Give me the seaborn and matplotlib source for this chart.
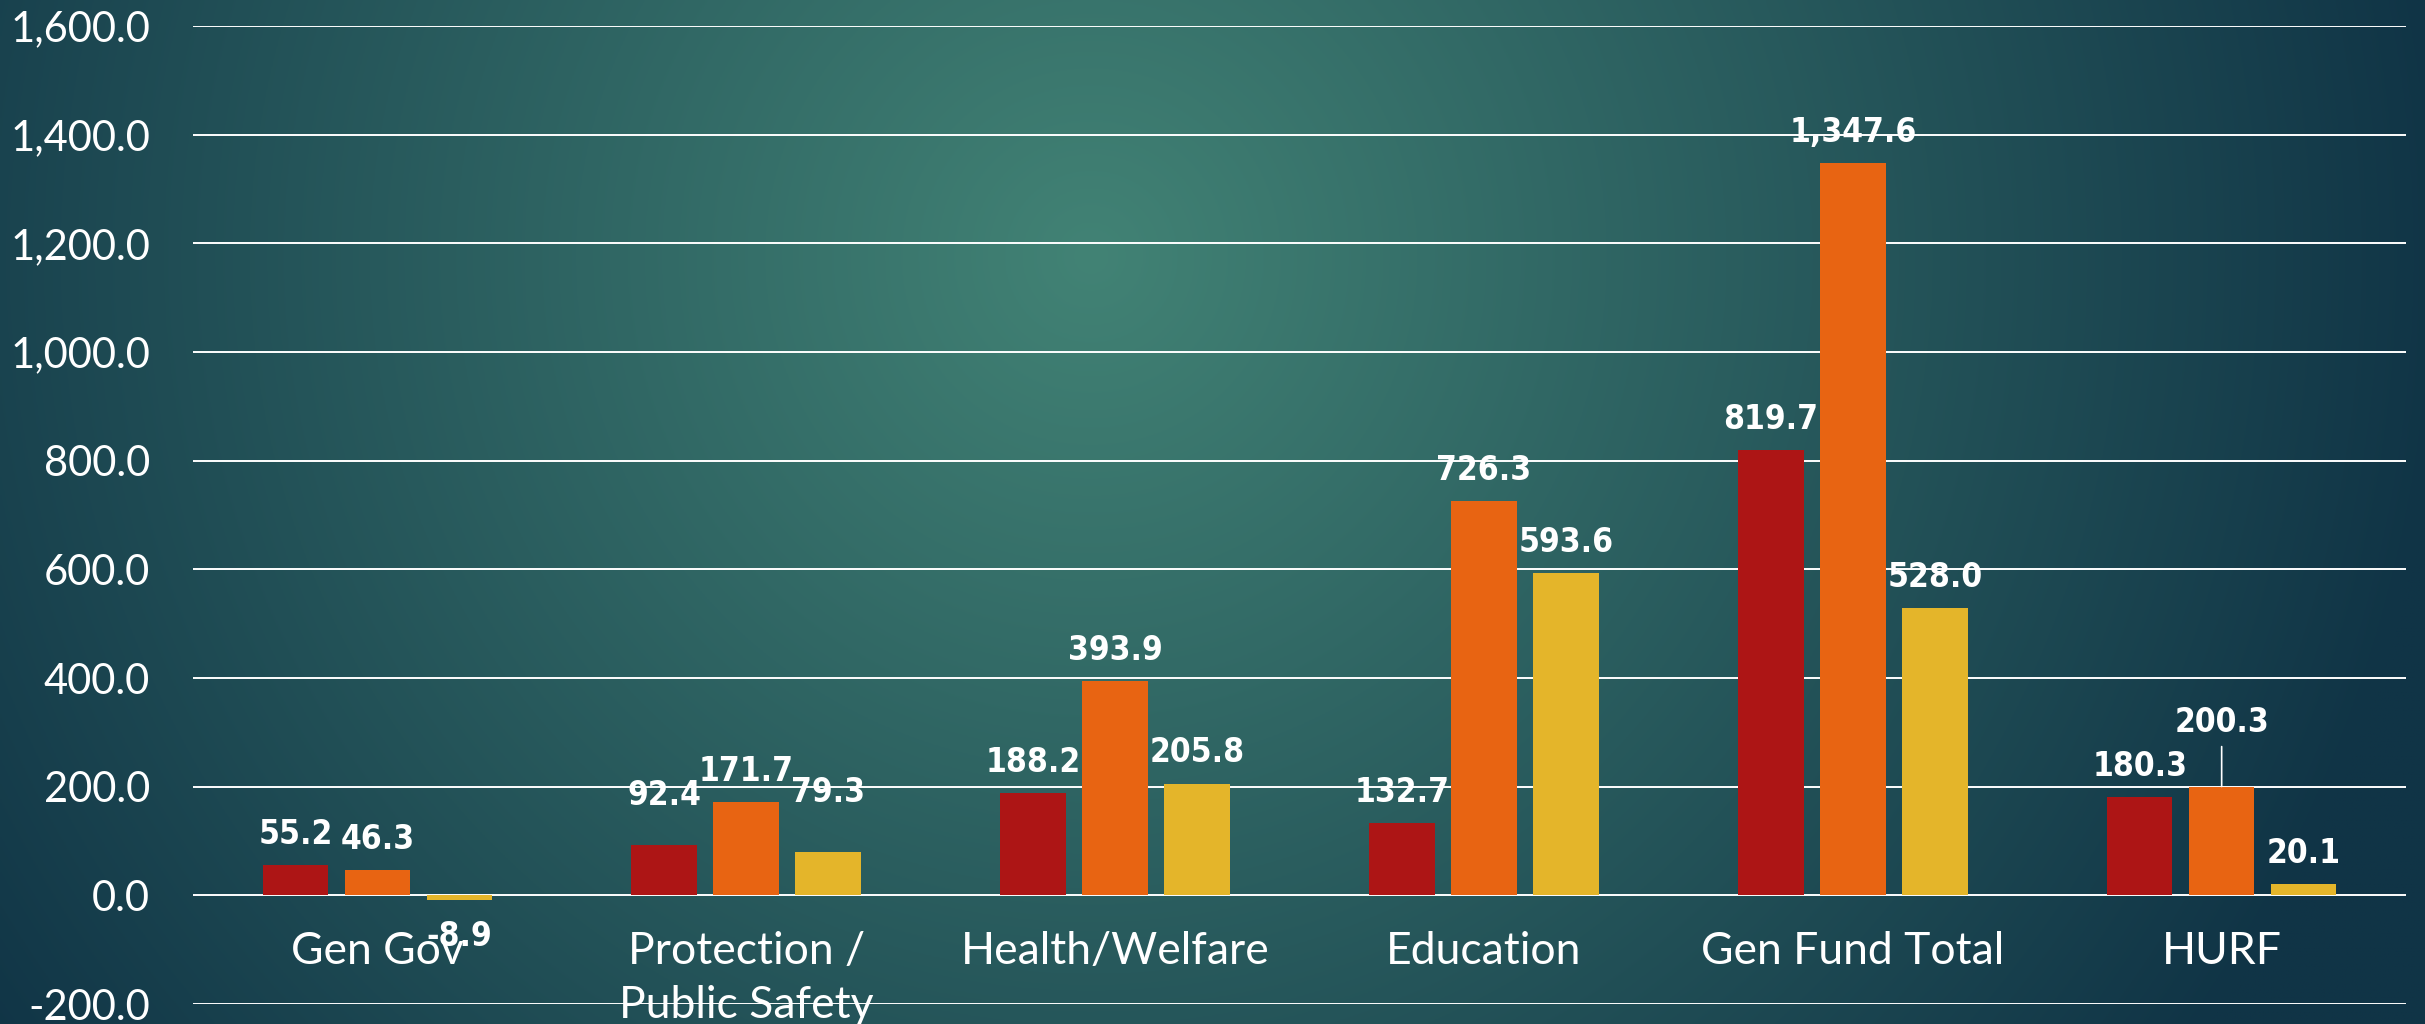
import numpy as np
import pandas as pd
import matplotlib
matplotlib.use("Agg")
import matplotlib.pyplot as plt
import seaborn as sns

# Chart data
categories = ["Gen Gov", "Protection /\nPublic Safety", "Health/Welfare",
              "Education", "Gen Fund Total", "HURF"]
series_names = ["Series 1", "Series 2", "Series 3"]
series_1 = [55.2, 92.4, 188.2, 132.7, 819.7, 180.3]
series_2 = [46.3, 171.7, 393.9, 726.3, 1347.6, 200.3]
series_3 = [-8.9, 79.3, 205.8, 593.6, 528.0, 20.1]
y_ticks = [-200, 0, 200, 400, 600, 800, 1000, 1200, 1400, 1600]

COLORS = ["#AD1515", "#E86412", "#E4B52A"]

sns.set_style("white")
plt.rcParams['font.family'] = ['Lato', 'DejaVu Sans']

df = pd.DataFrame({
    "category": categories * 3,
    "series": [s for s in series_names for _ in categories],
    "value": series_1 + series_2 + series_3,
})

fig = plt.figure(figsize=(24.25, 10.24), dpi=100)

# radial teal background
h, w = 400, 950
yy, xx = np.mgrid[0:1:h * 1j, 0:1:w * 1j]
r = np.sqrt(((xx - 0.45) / 0.56) ** 2 + ((yy - 0.25) / 1.32) ** 2)
t = np.clip(r, 0, 1)[..., None]
inner = np.array([66, 131, 117]) / 255
outer = np.array([16, 52, 70]) / 255
grad = inner * (1 - t) + outer * t
bg = fig.add_axes([0, 0, 1, 1], zorder=-10)
bg.imshow(grad, aspect='auto', extent=[0, 1, 0, 1], origin='upper')
bg.axis('off')

ax = fig.add_axes([0.0796, 0.0195, 0.9126, 0.9551])
ax.set_facecolor('none')

sns.barplot(data=df, x="category", y="value", hue="series", palette=COLORS,
            width=0.667, gap=0.2, saturation=1, errorbar=None, legend=False,
            linewidth=0, ax=ax, zorder=3)

ax.set_ylim(-200, 1600)
ax.set_yticks(y_ticks)
ax.set_yticklabels([f"{v:,.1f}" for v in y_ticks])
ax.yaxis.grid(True, color='white', linewidth=1.4)
ax.set_axisbelow(True)
ax.set_xlabel("")
ax.set_ylabel("")
for s in ax.spines.values():
    s.set_visible(False)
ax.spines['bottom'].set_position(('data', 0))
ax.tick_params(axis='both', length=0, colors='white')
ax.tick_params(axis='y', pad=31, labelsize=30)
ax.tick_params(axis='x', pad=26, labelsize=32)
for lbl in ax.get_xticklabels():
    lbl.set_linespacing(1.38)

# value labels (a few nudged like in the original slide)
extra = {(1, 0): 14, (1, 2): 21, (5, 1): 24}
for si, cont in enumerate(ax.containers):
    for ci, bar in enumerate(cont):
        val = bar.get_height()
        x = bar.get_x() + bar.get_width() / 2
        off = 22 + extra.get((ci, si), 0) if val >= 0 else -26
        kw = {}
        if (ci, si) == (5, 1):
            kw['arrowprops'] = dict(arrowstyle='-', color='white', lw=1.2,
                                    shrinkA=3, shrinkB=0)
        ax.annotate(f"{val:,.1f}", xy=(x, val), xytext=(0, off),
                    textcoords='offset points', ha='center', va='center',
                    color='white', fontsize=24, family='DejaVu Sans',
                    fontstretch='condensed', fontweight='bold', zorder=5, **kw)

fig.savefig("out.png", dpi=100)
